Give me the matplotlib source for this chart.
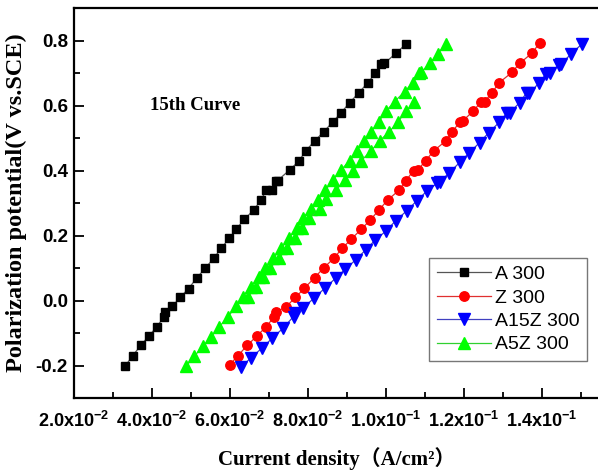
import matplotlib
matplotlib.use('Agg')
import matplotlib.pyplot as plt
from matplotlib.ticker import MultipleLocator, FixedLocator

plt.rcParams['mathtext.fontset'] = 'custom'
plt.rcParams['mathtext.rm'] = 'Liberation Sans:bold'
plt.rcParams['mathtext.it'] = 'Liberation Sans:bold'
plt.rcParams['mathtext.bf'] = 'Liberation Sans:bold'

# A 300 (black squares)
a300_x = [0.0333, 0.0352, 0.0372, 0.0393, 0.0414, 0.0432, 0.0435, 0.0453, 0.0474, 0.0495,
          0.0516, 0.0538, 0.0559, 0.0579, 0.0599, 0.0617, 0.0638, 0.0662, 0.0681, 0.0694,
          0.0710, 0.0718, 0.0723, 0.0754, 0.0777, 0.0795, 0.0818, 0.0842, 0.0865, 0.0886,
          0.0908, 0.0932, 0.0955, 0.0974, 0.0989, 0.0997, 0.1027, 0.1053]
a300_y = [-0.200, -0.169, -0.138, -0.109, -0.080, -0.049, -0.036, -0.018, 0.011, 0.037,
          0.070, 0.100, 0.130, 0.161, 0.192, 0.220, 0.250, 0.279, 0.310, 0.340,
          0.340, 0.369, 0.369, 0.402, 0.428, 0.460, 0.491, 0.520, 0.550, 0.578,
          0.609, 0.640, 0.671, 0.700, 0.728, 0.730, 0.761, 0.790]

# Z 300 (red circles)
z300_x = [0.0600, 0.0621, 0.0645, 0.0670, 0.0694, 0.0715, 0.0720, 0.0744, 0.0769, 0.0792,
          0.0818, 0.0841, 0.0867, 0.0889, 0.0912, 0.0938, 0.0961, 0.0983, 0.1006, 0.1034,
          0.1052, 0.1072, 0.1083, 0.1103, 0.1124, 0.1154, 0.1171, 0.1192, 0.1198, 0.1224,
          0.1244, 0.1254, 0.1273, 0.1292, 0.1324, 0.1344, 0.1375, 0.1395]
z300_y = [-0.198, -0.170, -0.138, -0.109, -0.080, -0.049, -0.034, -0.020, 0.010, 0.038,
          0.071, 0.100, 0.130, 0.161, 0.189, 0.220, 0.248, 0.279, 0.310, 0.339,
          0.369, 0.400, 0.402, 0.431, 0.461, 0.491, 0.520, 0.551, 0.553, 0.582,
          0.610, 0.612, 0.640, 0.671, 0.702, 0.730, 0.761, 0.792]

# A15Z 300 (blue down triangles)
a15z_x = [0.0630, 0.0656, 0.0684, 0.0709, 0.0737, 0.0764, 0.0769, 0.0788, 0.0816, 0.0844,
          0.0872, 0.0897, 0.0923, 0.0949, 0.0974, 0.1002, 0.1026, 0.1055, 0.1080, 0.1106,
          0.1132, 0.1140, 0.1164, 0.1190, 0.1215, 0.1241, 0.1265, 0.1291, 0.1311, 0.1318,
          0.1344, 0.1362, 0.1369, 0.1393, 0.1412, 0.1421, 0.1444, 0.1450, 0.1476, 0.1504]
a15z_y = [-0.203, -0.175, -0.145, -0.116, -0.085, -0.049, -0.039, -0.023, 0.007, 0.038,
          0.069, 0.097, 0.125, 0.156, 0.187, 0.215, 0.246, 0.277, 0.307, 0.337,
          0.361, 0.366, 0.394, 0.425, 0.455, 0.486, 0.517, 0.548, 0.577, 0.578,
          0.609, 0.640, 0.638, 0.669, 0.698, 0.700, 0.725, 0.728, 0.759, 0.790]

# A5Z 300 (green up triangles), two sweeps
a5z_x1 = [0.0489, 0.0510, 0.0532, 0.0553, 0.0574, 0.0596, 0.0617, 0.0634, 0.0655, 0.0675,
          0.0692, 0.0712, 0.0733, 0.0752, 0.0772, 0.0788, 0.0809, 0.0826, 0.0846, 0.0865,
          0.0886, 0.0908, 0.0926, 0.0944, 0.0963, 0.0983, 0.1000, 0.1023, 0.1049, 0.1070,
          0.1085, 0.1091, 0.1113, 0.1134, 0.1155]
a5z_y1 = [-0.201, -0.170, -0.141, -0.111, -0.080, -0.049, -0.018, 0.012, 0.043, 0.074,
          0.100, 0.130, 0.161, 0.192, 0.223, 0.254, 0.281, 0.310, 0.340, 0.371,
          0.402, 0.431, 0.461, 0.492, 0.520, 0.551, 0.582, 0.612, 0.643, 0.671,
          0.700, 0.702, 0.730, 0.759, 0.790]
a5z_x2 = [0.0647, 0.0668, 0.0686, 0.0704, 0.0726, 0.0748, 0.0767, 0.0787, 0.0805, 0.0831,
          0.0848, 0.0873, 0.0895, 0.0916, 0.0938, 0.0963, 0.0985, 0.1010, 0.1032, 0.1053,
          0.1074]
a5z_y2 = [0.012, 0.043, 0.074, 0.100, 0.130, 0.161, 0.192, 0.223, 0.254, 0.281,
          0.312, 0.340, 0.371, 0.400, 0.431, 0.461, 0.492, 0.520, 0.551, 0.582,
          0.612]

fig = plt.figure(figsize=(5.98, 4.74), dpi=100)
ax = fig.add_axes([0.123, 0.160, 0.8804, 0.823])

ax.plot(a300_x, a300_y, color='#555555', lw=0.9, marker='s', ms=6.3,
        mfc='black', mec='black', label='A 300')
ax.plot(z300_x, z300_y, color='#e03030', lw=0.9, marker='o', ms=6.8,
        mfc='#ff0000', mec='#ff0000', label='Z 300')
ax.plot(a15z_x, a15z_y, color='#4040c0', lw=0.9, marker='v', ms=8.3,
        mfc='#0000ff', mec='#0000ff', label='A15Z 300')
ax.plot(a5z_x1, a5z_y1, color='#30d030', lw=0.9, marker='^', ms=8.3,
        mfc='#00ff00', mec='#00ff00', label='A5Z 300')
ax.plot(a5z_x2, a5z_y2, color='#30d030', lw=0.9, marker='^', ms=8.3,
        mfc='#00ff00', mec='#00ff00')

ax.set_xlim(0.02, 0.155)
ax.set_ylim(-0.3, 0.9)

xticks = [0.02, 0.04, 0.06, 0.08, 0.10, 0.12, 0.14]
xlabels = [r'2.0x10$^{-2}$', r'4.0x10$^{-2}$', r'6.0x10$^{-2}$', r'8.0x10$^{-2}$',
           r'1.0x10$^{-1}$', r'1.2x10$^{-1}$', r'1.4x10$^{-1}$']
yticks = [-0.2, 0.0, 0.2, 0.4, 0.6, 0.8]
ylabels = ['-0.2', '0.0', '0.2', '0.4', '0.6', '0.8']

ax.xaxis.set_major_locator(FixedLocator(xticks))
ax.set_xticklabels(xlabels)
ax.xaxis.set_minor_locator(MultipleLocator(0.01))
ax.yaxis.set_major_locator(FixedLocator(yticks))
ax.set_yticklabels(ylabels)
ax.yaxis.set_minor_locator(MultipleLocator(0.1))

ax.tick_params(which='both', direction='in', width=1.3, top=False, right=False)
ax.tick_params(which='major', length=7)
ax.tick_params(which='minor', length=4)
ax.tick_params(axis='x', which='major', pad=9, labelsize=13)
ax.tick_params(axis='y', which='major', pad=4, labelsize=13.5)
for lab in ax.get_xticklabels() + ax.get_yticklabels():
    lab.set_family('Liberation Sans')
    lab.set_fontweight('bold')

for sp in ax.spines.values():
    sp.set_linewidth(1.6)
ax.spines['right'].set_visible(False)

ax.set_ylabel('Polarization potential(V vs.SCE)', family='Liberation Serif',
              fontweight='bold', fontsize=17.5, labelpad=6)
ax.set_xlabel('Current density（A/cm²）', family=['Liberation Serif', 'Noto Sans CJK SC'],
              fontweight='bold', fontsize=15, labelpad=12)

ax.text(0.0513, 0.6, '15th Curve', family='Liberation Serif', fontweight='bold',
        fontsize=13.5, ha='center', va='center')

leg = ax.legend(loc='upper left', bbox_to_anchor=(0.6565, 0.385), frameon=True,
                fancybox=False, edgecolor='#555555',
                prop={'family': 'Liberation Sans', 'size': 14},
                handlelength=2.8, handletextpad=0.2, borderpad=0.4, labelspacing=0.3)
leg.get_frame().set_linewidth(1.0)

fig.savefig('out.png', dpi=100)
